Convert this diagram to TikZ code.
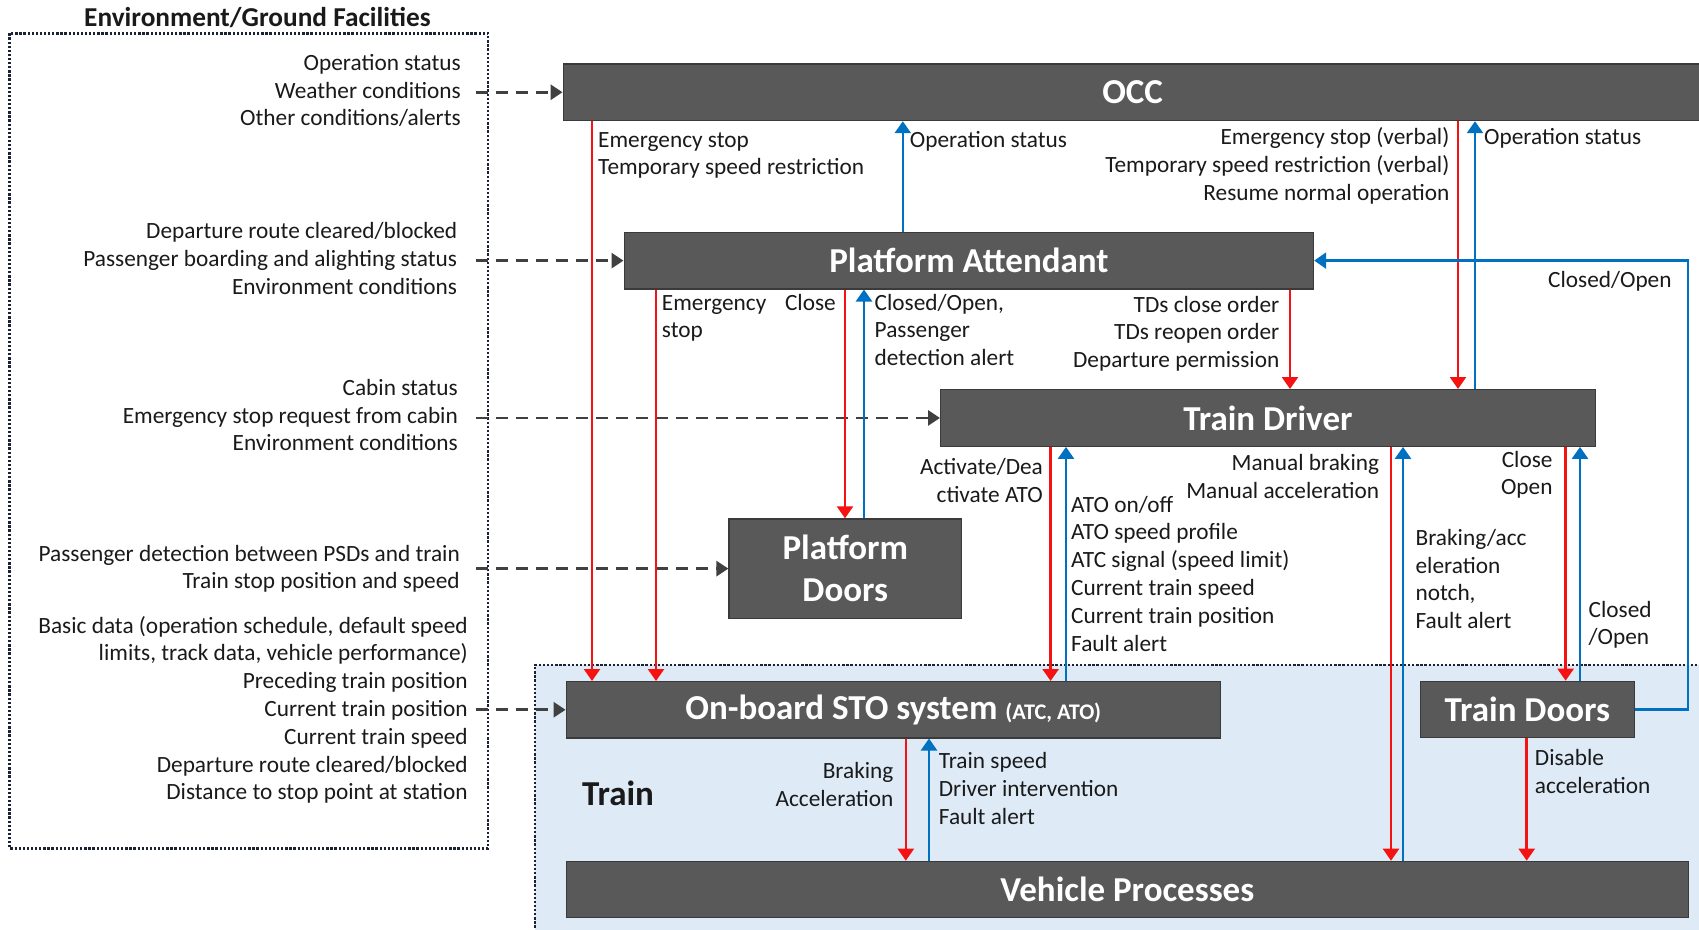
\documentclass[tikz,border=0pt]{standalone}
\usepackage{fontspec}
\setmainfont{Carlito}
\usetikzlibrary{arrows.meta}
\definecolor{boxgray}{HTML}{595959}
\definecolor{boxedge}{HTML}{3A3A3A}
\definecolor{redc}{HTML}{F51212}
\definecolor{bluec}{HTML}{0070C0}
\definecolor{dashc}{HTML}{404040}
\definecolor{trainfill}{HTML}{DEEBF7}
\definecolor{dotc}{HTML}{1A2233}
\definecolor{txtc}{HTML}{1A1A1A}
\newcommand{\rblock}[1]{\begin{tabular}[t]{@{}r@{}}#1\end{tabular}}
\newcommand{\lblock}[1]{\begin{tabular}[t]{@{}l@{}}#1\end{tabular}}
\begin{document}
\begin{tikzpicture}[x=1pt,y=-1pt,
  box/.style={draw=boxedge, line width=1.2pt, fill=boxgray, text=white, font=\fontsize{35}{41.7}\selectfont\bfseries, inner sep=0pt, anchor=north west, align=center},
  lbl/.style={inner sep=0pt, font=\fontsize{23.3}{27.8}\selectfont, text=txtc},
  redarr/.style={draw=redc, line width=2.5pt, -{Triangle[length=12pt,width=16pt]}},
  bluearr/.style={draw=bluec, line width=2.5pt, -{Triangle[length=12pt,width=16pt]}},
  dasharr/.style={draw=dashc, line width=2.8pt, dash pattern=on 12pt off 8pt, -{Triangle[length=12pt,width=15pt]}},
  region/.style={draw=dotc, line width=2.6pt, dash pattern=on 2.3pt off 1.8pt}
]
\useasboundingbox (0,0) rectangle (1699,929);
\fill[white] (0,0) rectangle (1699,929);
% train region
\fill[trainfill] (535,665) rectangle (1710,940);
\draw[region] (535,940) -- (535,665) -- (1710,665);
% environment region
\draw[region] (9.6,33.3) rectangle (488,848.3);
\node[anchor=base west, inner sep=0pt, font=\fontsize{27.3}{30}\selectfont\bfseries, text=txtc] (title) at (84,26) {Environment/Ground Facilities};
\node[inner sep=0pt, font=\fontsize{35}{40}\selectfont\bfseries, text=txtc] (trainlbl) at (618,793.3) {Train};

% boxes
\node[box, minimum width=1138.8pt, minimum height=56.7pt] (occ) at (562.6,63.3) {OCC};
\node[box, minimum width=689.5pt, minimum height=56.6pt] (pa) at (623.5,231.7) {Platform Attendant};
\node[box, minimum width=654.7pt, minimum height=56.7pt] (td) at (940,389) {Train Driver};
\node[box, minimum width=232.6pt, minimum height=99.4pt] (pd) at (728.4,518.3) {Platform\\Doors};
\node[box, minimum width=654pt, minimum height=56.3pt] (sto) at (565.6,681) {On-board STO system {\fontsize{22.3}{26}\selectfont (ATC, ATO)}};
\node[box, minimum width=213.6pt, minimum height=56pt] (tdoor) at (1420,680.7) {Train Doors};
\node[box, minimum width=1122.4pt, minimum height=56pt] (vp) at (565.6,860.7) {Vehicle Processes};

% dashed inputs
\draw[dasharr] (occ.west -| 476,0) -- (occ.west);
\draw[dasharr] (pa.west -| 476,0) -- (pa.west);
\draw[dasharr] (td.west -| 476,0) -- (td.west);
\draw[dasharr] (pd.west -| 476,0) -- (pd.west);
\draw[dasharr] (sto.west -| 476,0) -- (sto.west);

% red arrows
\draw[redarr] (occ.south -| 592,0) -- (sto.north -| 592,0);
\draw[redarr] (pa.south -| 656,0) -- (sto.north -| 656,0);
\draw[redarr] (pa.south -| 845,0) -- (pd.north -| 845,0);
\draw[redarr] (pa.south -| 1290,0) -- (td.north -| 1290,0);
\draw[redarr] (occ.south -| 1458,0) -- (td.north -| 1458,0);
\draw[redarr] (td.south -| 1050.6,0) -- (sto.north -| 1050.6,0);
\draw[redarr] (td.south -| 1391,0) -- (vp.north -| 1391,0);
\draw[redarr] (td.south -| 1565.6,0) -- (tdoor.north -| 1565.6,0);
\draw[redarr] (sto.south -| 905.8,0) -- (vp.north -| 905.8,0);
\draw[redarr] (tdoor.south -| 1526.7,0) -- (vp.north -| 1526.7,0);

% blue arrows
\draw[bluearr] (pa.north -| 902.8,0) -- (occ.south -| 902.8,0);
\draw[bluearr] (pd.north -| 864,0) -- (pa.south -| 864,0);
\draw[bluearr] (td.north -| 1475,0) -- (occ.south -| 1475,0);
\draw[bluearr] (sto.north -| 1066,0) -- (td.south -| 1066,0);
\draw[bluearr] (vp.north -| 1403,0) -- (td.south -| 1403,0);
\draw[bluearr] (tdoor.north -| 1580,0) -- (td.south -| 1580,0);
\draw[bluearr] (vp.north -| 929,0) -- (sto.south -| 929,0);
\draw[bluearr] (tdoor.east) -- (tdoor.east -| 1688,0) -- (pa.east -| 1688,0) -- (pa.east);

% left input labels
\node[lbl, anchor=base east] (in1) at (461,70.3) {\rblock{Operation status\\Weather conditions\\Other conditions/alerts}};
\node[lbl, anchor=base east] (in2) at (457.3,238.7) {\rblock{Departure route cleared/blocked\\Passenger boarding and alighting status\\Environment conditions}};
\node[lbl, anchor=base east] (in3) at (458,395.3) {\rblock{Cabin status\\Emergency stop request from cabin\\Environment conditions}};
\node[lbl, anchor=base east] (in4) at (460,561) {\rblock{Passenger detection between PSDs and train\\Train stop position and speed}};
\node[lbl, anchor=base east] (in5) at (467.9,633) {\rblock{Basic data (operation schedule, default speed\\limits, track data, vehicle performance)\\Preceding train position\\Current train position\\Current train speed\\Departure route cleared/blocked\\Distance to stop point at station}};

% connector labels
\node[lbl, anchor=base west] (a1) at (598,147) {\lblock{Emergency stop\\Temporary speed restriction}};
\node[lbl, anchor=base west] (a2) at (909.7,147) {Operation status};
\node[lbl, anchor=base east] (a3) at (1449.5,144.5) {\rblock{Emergency stop (verbal)\\Temporary speed restriction (verbal)\\Resume normal operation}};
\node[lbl, anchor=base west] (a4) at (1484,144.5) {Operation status};
\node[lbl, anchor=base east] (a5) at (1671.8,287) {Closed/Open};
\node[lbl, anchor=base west] (a6) at (661.7,310) {\lblock{Emergency\\stop}};
\node[lbl, anchor=base east] (a7) at (836,310) {Close};
\node[lbl, anchor=base west] (a8) at (874.5,310) {\lblock{Closed/Open,\\Passenger\\detection alert}};
\node[lbl, anchor=base east] (a9) at (1279.5,312) {\rblock{TDs close order\\TDs reopen order\\Departure permission}};
\node[lbl, anchor=base east] (a10) at (1043,474.3) {\rblock{Activate/Dea\\ctivate ATO}};
\node[lbl, anchor=base west] (a11) at (1071,512) {\lblock{ATO on/off\\ATO speed profile\\ATC signal (speed limit)\\Current train speed\\Current train position\\Fault alert}};
\node[lbl, anchor=base east] (a12) at (1379.3,470.3) {\rblock{Manual braking\\Manual acceleration}};
\node[lbl, anchor=base east] (a13) at (1552.7,467) {\rblock{Close\\Open}};
\node[lbl, anchor=base west] (a14) at (1415.4,545.3) {\lblock{Braking/acc\\eleration\\notch,\\Fault alert}};
\node[lbl, anchor=base west] (a15) at (1588.4,617) {\lblock{Closed\\/Open}};
\node[lbl, anchor=base east] (a16) at (893.6,778.7) {\rblock{Braking\\Acceleration}};
\node[lbl, anchor=base west] (a17) at (938.7,768.7) {\lblock{Train speed\\Driver intervention\\Fault alert}};
\node[lbl, anchor=base west] (a18) at (1534.7,765.3) {\lblock{Disable\\acceleration}};
\end{tikzpicture}
\end{document}
